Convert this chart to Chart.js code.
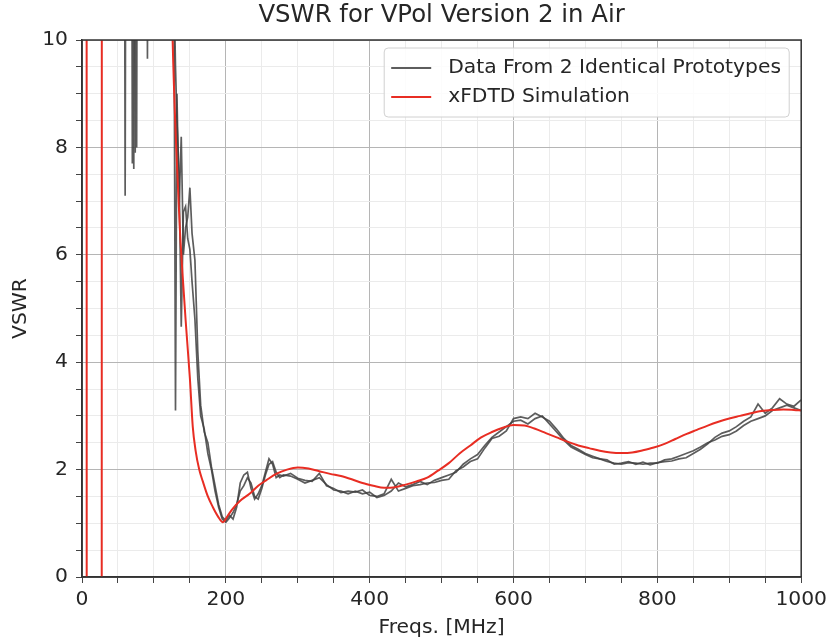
<!DOCTYPE html>
<html lang="en">
<head>
    <meta charset="UTF-8">
    <title>VSWR for VPol Version 2 in Air</title>
    <script src="https://cdn.jsdelivr.net/npm/chart.js"></script>
    <style>
        body {
            margin: 0;
            padding: 0;
            background-color: #fff;
        }
        .wrap {
            width: 832px;
            height: 644px;
            position: relative;
        }
    </style>
</head>
<body>
<div class="wrap"><canvas id="vswrChart"></canvas></div>

<script>
    // measured frequencies (MHz), shared by both prototypes
    var measFreqs = [
        0, 58, 60, 62, 68, 70, 72, 74, 76, 78,
        89, 91, 93, 120, 125, 128, 130, 132, 135, 138,
        141, 144, 147, 150, 153, 157, 161, 165, 170, 175,
        180, 185, 190, 195, 200, 205, 210, 215, 220, 225,
        230, 235, 240, 245, 250, 255, 260, 265, 270, 275,
        280, 290, 300, 310, 320, 330, 340, 350, 360, 370,
        380, 390, 400, 410, 420, 430, 440, 450, 460, 470,
        480, 490, 500, 510, 520, 530, 540, 550, 560, 570,
        580, 590, 600, 610, 620, 630, 640, 650, 660, 670,
        680, 690, 700, 710, 720, 730, 740, 750, 760, 770,
        780, 790, 800, 810, 820, 830, 840, 850, 860, 870,
        880, 890, 900, 910, 920, 930, 940, 950, 960, 970,
        980, 990, 1000
    ];

    var proto1 = [
        20, 20, 7.1, 20, 20, 7.7, 20, 7.9, 20, 20,
        20, 9.65, 20, 20, 14, 10.5, 3.1, 9.0, 6.9, 8.2,
        6.0, 6.5, 6.7, 7.25, 6.4, 5.9, 4.2, 3.2, 2.7, 2.5,
        2.05, 1.7, 1.35, 1.12, 1.05, 1.15, 1.08, 1.3, 1.75, 1.9,
        1.95, 1.65, 1.45, 1.55, 1.7, 1.95, 2.2, 2.1, 1.85, 1.9,
        1.88, 1.93, 1.84, 1.8, 1.78, 1.93, 1.7, 1.65, 1.57, 1.6,
        1.58, 1.62, 1.52, 1.5, 1.55, 1.82, 1.6, 1.65, 1.7, 1.72,
        1.75, 1.76, 1.8, 1.82, 1.98, 2.05, 2.15, 2.2, 2.4, 2.58,
        2.62, 2.72, 2.95, 2.98, 2.95, 3.05, 2.98, 2.9, 2.75, 2.58,
        2.45, 2.38, 2.3, 2.25, 2.2, 2.18, 2.1, 2.12, 2.15, 2.1,
        2.14, 2.09, 2.13, 2.15, 2.16, 2.2, 2.22, 2.3, 2.38, 2.48,
        2.6, 2.68, 2.72, 2.8, 2.9, 2.98, 3.22, 3.05, 3.15, 3.32,
        3.22, 3.18, 3.3
    ];

    var proto2 = [
        20, 20, 20, 20, 20, 20, 7.6, 20, 8.0, 20,
        20, 20, 20, 20, 15, 11, 9.5, 8.5, 7.5, 4.66,
        6.8, 6.9, 6.3, 6.1, 5.5, 4.8, 3.7, 3.0, 2.75, 2.3,
        2.0, 1.6, 1.3, 1.08, 1.02, 1.1, 1.2, 1.35, 1.6, 1.7,
        1.85, 1.75, 1.5, 1.45, 1.65, 1.9, 2.1, 2.15, 1.95, 1.85,
        1.9, 1.88, 1.82, 1.75, 1.8, 1.85, 1.72, 1.62, 1.6, 1.55,
        1.6, 1.55, 1.58, 1.48, 1.52, 1.6, 1.75, 1.68, 1.72, 1.78,
        1.72, 1.8, 1.85, 1.9, 1.95, 2.1, 2.2, 2.28, 2.45, 2.6,
        2.7, 2.8, 2.9, 2.92, 2.85, 2.95, 3.0, 2.85, 2.7, 2.55,
        2.42, 2.35, 2.28, 2.22, 2.2, 2.15, 2.12, 2.1, 2.13, 2.12,
        2.1, 2.12, 2.12, 2.18, 2.2, 2.25, 2.3, 2.35, 2.42, 2.5,
        2.55, 2.62, 2.65, 2.72, 2.82, 2.9, 2.95, 3.0, 3.1, 3.15,
        3.2, 3.15, 3.1
    ];

    // xFDTD simulation
    var simFreqs = [
        0, 6, 7, 27, 28, 60, 100, 120, 126, 131,
        136, 140, 144, 147, 150, 154, 158, 163, 168, 175,
        182, 189, 196, 203, 210, 220, 233, 245, 256, 270,
        285, 300, 315, 330, 345, 360, 375, 390, 405, 420,
        435, 450, 465, 480, 495, 510, 525, 540, 555, 570,
        585, 600, 615, 630, 645, 660, 675, 690, 705, 720,
        735, 750, 765, 780, 795, 810, 825, 840, 855, 870,
        885, 900, 915, 930, 945, 960, 975, 990, 1000
    ];

    var simVswr = [
        60, 60, -50, -50, 60, 60, 40, 14, 10, 8.0,
        6.5, 5.6, 4.8, 4.25, 3.7, 2.8, 2.35, 2.0, 1.78, 1.5,
        1.3, 1.13, 1.02, 1.15, 1.28, 1.42, 1.55, 1.7, 1.8, 1.92,
        2.0, 2.04, 2.02, 1.97, 1.92, 1.88, 1.82, 1.75, 1.7, 1.66,
        1.67, 1.72, 1.78, 1.85, 1.98, 2.12, 2.3, 2.45, 2.6, 2.7,
        2.78, 2.83, 2.82, 2.76, 2.68, 2.6, 2.52, 2.45, 2.4, 2.35,
        2.32, 2.31, 2.32, 2.36, 2.41, 2.48, 2.57, 2.66, 2.74, 2.82,
        2.89, 2.95, 3.0, 3.05, 3.09, 3.11, 3.12, 3.11, 3.1
    ];

    var xTickLabels = [0, 200, 400, 600, 800, 1000];
    var yTickLabels = [0, 2, 4, 6, 8, 10];
    var chartTitle = 'VSWR for VPol Version 2 in Air';

    var grayLine = 'rgba(65,65,65,0.85)';
    var redLine = 'rgb(232,45,35)';
    var txtColor = '#262626';
    var fontName = "'DejaVu Sans', sans-serif";

    function toPoints(xs, ys) {
        return xs.map(function(x, i) { return { x: x, y: ys[i] }; });
    }

    // title centred over the plot, closed axes frame and in-plot legend
    var frameLegend = {
        id: 'frameLegend',
        afterDatasetsDraw: function(chart) {
            var ctx = chart.ctx;
            var a = chart.chartArea;
            ctx.save();
            ctx.strokeStyle = '#333';
            ctx.lineWidth = 1.5;
            ctx.strokeRect(a.left, a.top, a.right - a.left, a.bottom - a.top);

            ctx.fillStyle = txtColor;
            ctx.font = '24.4px ' + fontName;
            ctx.textAlign = 'center';
            ctx.textBaseline = 'middle';
            ctx.fillText(chartTitle, (a.left + a.right) / 2, 16);

            var bx = a.right - 417, by = a.top + 8, bw = 405, bh = 69;
            ctx.beginPath();
            if (ctx.roundRect) {
                ctx.roundRect(bx, by, bw, bh, 4);
            } else {
                ctx.rect(bx, by, bw, bh);
            }
            ctx.fillStyle = 'rgba(255,255,255,0.85)';
            ctx.fill();
            ctx.strokeStyle = '#d0d0d0';
            ctx.lineWidth = 1;
            ctx.stroke();

            var items = chart.data.datasets.filter(function(d) { return d.inLegend; });
            items.sort(function(p, q) { return p.legendRank - q.legendRank; });
            ctx.font = '20.3px ' + fontName;
            ctx.textAlign = 'left';
            items.forEach(function(d, i) {
                var yy = by + 20 + i * 29;
                ctx.beginPath();
                ctx.moveTo(bx + 7, yy);
                ctx.lineTo(bx + 47, yy);
                ctx.strokeStyle = d.borderColor;
                ctx.lineWidth = 2;
                ctx.stroke();
                ctx.fillStyle = txtColor;
                ctx.fillText(d.label, bx + 64, yy);
            });
            ctx.restore();
        }
    };

    function isLabelled(v, list) {
        return list.some(function(t) { return Math.abs(t - v) < 1e-6; });
    }

    var ctx = document.getElementById('vswrChart').getContext('2d');
    var myChart = new Chart(ctx, {
        type: 'line',
        data: {
            datasets: [{
                label: 'xFDTD Simulation',
                data: toPoints(simFreqs, simVswr),
                borderColor: redLine,
                borderWidth: 2,
                pointRadius: 0,
                cubicInterpolationMode: 'monotone',
                inLegend: true,
                legendRank: 1
            }, {
                label: 'Data From 2 Identical Prototypes',
                data: toPoints(measFreqs, proto1),
                borderColor: grayLine,
                borderWidth: 1.7,
                pointRadius: 0,
                tension: 0,
                inLegend: true,
                legendRank: 0
            }, {
                label: 'Prototype 2',
                data: toPoints(measFreqs, proto2),
                borderColor: grayLine,
                borderWidth: 1.7,
                pointRadius: 0,
                tension: 0,
                inLegend: false
            }]
        },
        options: {
            responsive: true,
            maintainAspectRatio: false,
            animation: false,
            layout: {
                autoPadding: false,
                padding: { left: 0, right: 29, top: 40, bottom: 0 }
            },
            plugins: {
                legend: { display: false },
                tooltip: { enabled: false },
                title: { display: false }
            },
            scales: {
                x: {
                    type: 'linear',
                    min: 0,
                    max: 1000,
                    afterFit: function(scale) { scale.height = 67; },
                    ticks: {
                        stepSize: 50,
                        autoSkip: false,
                        maxRotation: 0,
                        color: txtColor,
                        font: { family: fontName, size: 20.3 },
                        padding: 5,
                        callback: function(v) { return isLabelled(v, xTickLabels) ? v : ''; }
                    },
                    grid: {
                        color: function(c) {
                            return c.tick && isLabelled(c.tick.value, xTickLabels) ? '#b5b5b5' : '#ebebeb';
                        },
                        tickColor: '#444',
                        tickLength: 6
                    },
                    border: { display: true, color: '#333', width: 1.5 },
                    title: {
                        display: true,
                        text: 'Freqs. [MHz]',
                        color: txtColor,
                        font: { family: fontName, size: 20.3, lineHeight: 1.2 },
                        padding: { top: 0, bottom: 4 }
                    }
                },
                y: {
                    min: 0,
                    max: 10,
                    afterFit: function(scale) { scale.width = 82; },
                    ticks: {
                        stepSize: 0.5,
                        autoSkip: false,
                        color: txtColor,
                        font: { family: fontName, size: 20.3 },
                        padding: 8,
                        callback: function(v) { return isLabelled(v, yTickLabels) ? v : ''; }
                    },
                    grid: {
                        color: function(c) {
                            return c.tick && isLabelled(c.tick.value, yTickLabels) ? '#b5b5b5' : '#ebebeb';
                        },
                        tickColor: '#444',
                        tickLength: 6
                    },
                    border: { display: true, color: '#333', width: 1.5 },
                    title: {
                        display: true,
                        text: 'VSWR',
                        color: txtColor,
                        font: { family: fontName, size: 20.3, lineHeight: 1.2 },
                        padding: { top: 9, bottom: 0 }
                    }
                }
            }
        },
        plugins: [frameLegend]
    });
</script>
</body>
</html>
